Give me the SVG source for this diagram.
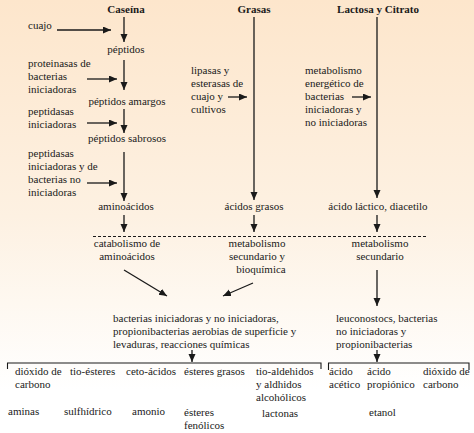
<svg xmlns="http://www.w3.org/2000/svg" width="474" height="433" viewBox="0 0 474 433">
<defs>
<linearGradient id="bg" x1="0" y1="0" x2="0" y2="1">
<stop offset="0" stop-color="#fde6cc"/>
<stop offset="0.5" stop-color="#fdf1e2"/>
<stop offset="0.9" stop-color="#ffffff"/>
</linearGradient>
<marker id="ah" markerUnits="userSpaceOnUse" markerWidth="9" markerHeight="8" refX="8" refY="3.5" orient="auto">
<path d="M0,0 L8,3.5 L0,7 z" fill="#1a1a1a"/>
</marker>
<style>
text{font-family:'Liberation Serif','Times New Roman','DejaVu Serif',serif;font-size:11px;fill:#1a1a1a}
.b{font-weight:bold}
.m{text-anchor:middle}
.a{stroke:#1a1a1a;stroke-width:1.3;fill:none;marker-end:url(#ah)}
.l{stroke:#1a1a1a;stroke-width:1.1;fill:none}
.d{stroke:#1a1a1a;stroke-width:1;stroke-dasharray:3 2;fill:none}
</style>
</defs>
<rect width="474" height="433" fill="url(#bg)"/>

<g id="connectors">
<line class="a" x1="124" y1="17" x2="124" y2="42"/>
<line class="a" x1="57" y1="30" x2="111" y2="30"/>
<line class="a" x1="124" y1="60" x2="124" y2="90"/>
<line class="a" x1="87" y1="79" x2="117" y2="79"/>
<line class="a" x1="124" y1="109" x2="124" y2="133"/>
<line class="a" x1="87" y1="123" x2="117" y2="123"/>
<line class="a" x1="124" y1="152" x2="124" y2="201"/>
<line class="a" x1="87" y1="183" x2="117" y2="183"/>
<line class="a" x1="124" y1="215" x2="124" y2="232"/>
<line class="a" x1="254" y1="17" x2="254" y2="200"/>
<line class="a" x1="228" y1="97" x2="247" y2="97"/>
<line class="a" x1="254" y1="215" x2="254" y2="232"/>
<line class="a" x1="377" y1="17" x2="377" y2="198"/>
<line class="a" x1="352" y1="97" x2="371" y2="97"/>
<line class="a" x1="377" y1="215" x2="377" y2="232"/>
<line class="d" x1="93" y1="236.5" x2="428" y2="236.5"/>
<line class="a" x1="124" y1="270" x2="167" y2="296"/>
<line class="a" x1="253" y1="283" x2="223" y2="296"/>
<line class="a" x1="377" y1="270" x2="377" y2="306"/>
<line class="a" x1="192" y1="350" x2="192" y2="362"/>
<line class="a" x1="377" y1="350" x2="377" y2="362"/>
<polyline class="l" points="7.5,369 7.5,363 321,363 321,369"/>
<polyline class="l" points="328.5,370 328.5,363 469,363 469,370"/>
</g>

<g font-family="'Liberation Serif', 'Times New Roman', serif">
<g id="caseina"><text class="b m" x="126" y="13">Caseína</text></g>
<g id="grasas"><text class="b m" x="254" y="13">Grasas</text></g>
<g id="lactosa"><text class="b m" x="378" y="13">Lactosa y Citrato</text></g>

<g id="cuajo"><text x="28" y="29">cuajo</text></g>
<g id="peptidos"><text class="m" x="126" y="53">péptidos</text></g>
<g id="proteinasas"><text x="28" y="67">proteinasas de</text><text x="28" y="80">bacterias</text><text x="28" y="93">iniciadoras</text></g>
<g id="peptidos-amargos"><text class="m" x="127" y="105">péptidos amargos</text></g>
<g id="peptidasas1"><text x="28" y="115">peptidasas</text><text x="28" y="128">iniciadoras</text></g>
<g id="peptidos-sabrosos"><text class="m" x="127" y="142">péptidos sabrosos</text></g>
<g id="peptidasas2"><text x="28" y="157">peptidasas</text><text x="28" y="170">iniciadoras y de</text><text x="28" y="183">bacterias no</text><text x="28" y="196">iniciadoras</text></g>
<g id="aminoacidos"><text class="m" x="126" y="210">aminoácidos</text></g>

<g id="lipasas"><text x="191" y="74">lipasas y</text><text x="191" y="87">esterasas de</text><text x="191" y="100">cuajo y</text><text x="191" y="113">cultivos</text></g>
<g id="acidos-grasos"><text class="m" x="254" y="210">ácidos grasos</text></g>

<g id="metab-energetico"><text x="305" y="74">metabolismo</text><text x="305" y="87">energético de</text><text x="305" y="100">bacterias</text><text x="305" y="113">iniciadoras y</text><text x="305" y="126">no iniciadoras</text></g>
<g id="acido-lactico"><text class="m" x="378" y="210">ácido láctico, diacetilo</text></g>

<g id="catabolismo"><text class="m" x="127" y="247">catabolismo de</text><text class="m" x="127" y="260">aminoácidos</text></g>
<g id="metab-sec-bio"><text class="m" x="257" y="247">metabolismo</text><text class="m" x="257" y="260">secundario y</text><text class="m" x="261" y="273">bioquímica</text></g>
<g id="metab-sec"><text class="m" x="380" y="247">metabolismo</text><text class="m" x="380" y="260">secundario</text></g>

<g id="bacterias"><text x="113" y="322">bacterias iniciadoras y no iniciadoras,</text><text x="113" y="335">propionibacterias aerobias de superficie y</text><text x="113" y="348">levaduras, reacciones químicas</text></g>
<g id="leuconostocs"><text x="336" y="322">leuconostocs, bacterias</text><text x="336" y="335">no iniciadoras y</text><text x="336" y="348">propionibacterias</text></g>

<g id="dioxido1"><text x="15" y="375">dióxido de</text><text x="15" y="388">carbono</text></g>
<g id="tioesteres"><text x="70" y="375">tio-ésteres</text></g>
<g id="cetoacidos"><text x="126" y="375">ceto-ácidos</text></g>
<g id="esteres-grasos"><text x="184" y="375">ésteres grasos</text></g>
<g id="tioaldehidos"><text x="256" y="375">tio-aldehidos</text><text x="256" y="388">y aldhidos</text><text x="256" y="401">alcohólicos</text></g>
<g id="acido-acetico"><text x="329" y="375">ácido</text><text x="329" y="388">acético</text></g>
<g id="acido-propionico"><text x="367" y="375">ácido</text><text x="367" y="388">propiónico</text></g>
<g id="dioxido2"><text x="423" y="375">dióxido de</text><text x="423" y="388">carbono</text></g>

<g id="aminas"><text x="8" y="415">aminas</text></g>
<g id="sulfhidrico"><text x="64" y="415">sulfhídrico</text></g>
<g id="amonio"><text x="132" y="415">amonio</text></g>
<g id="esteres-fenolicos"><text x="184" y="416">ésteres</text><text x="184" y="429">fenólicos</text></g>
<g id="lactonas"><text x="262" y="417">lactonas</text></g>
<g id="etanol"><text x="369" y="416">etanol</text></g>
</g>
</svg>
